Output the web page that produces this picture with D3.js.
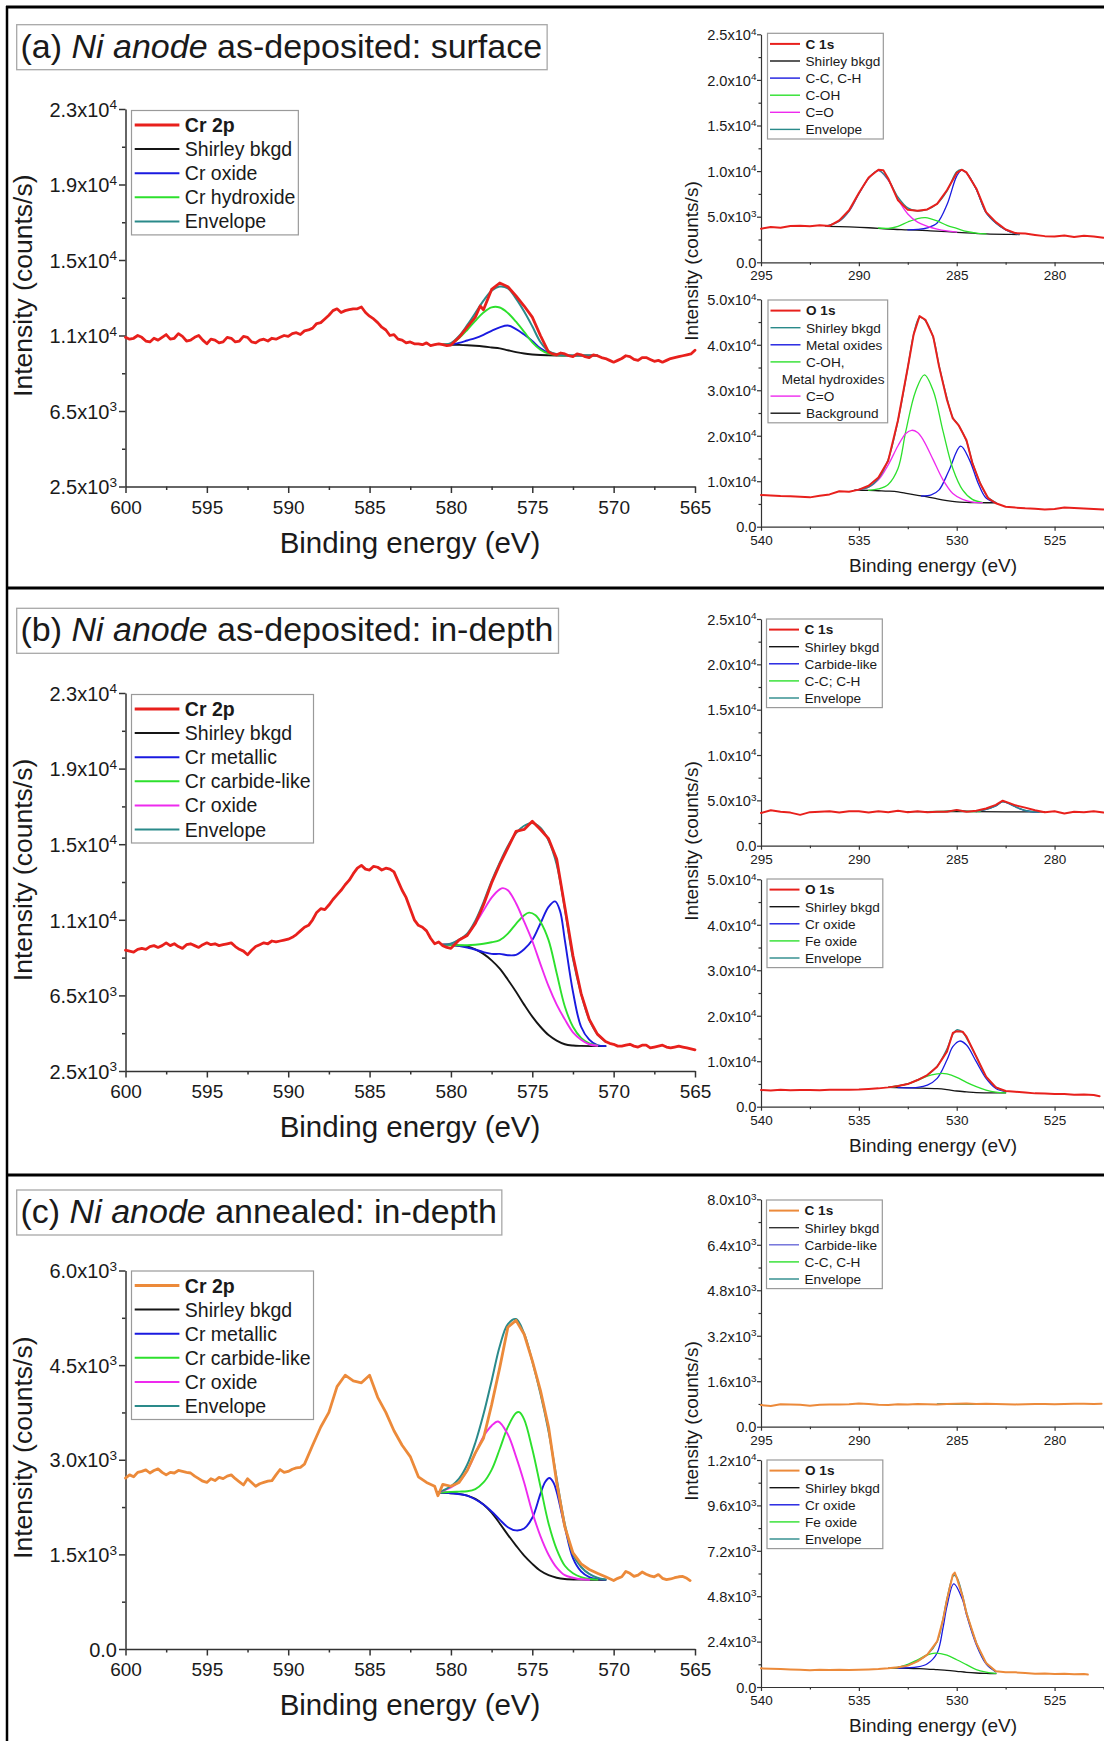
<!DOCTYPE html>
<html>
<head>
<meta charset="utf-8">
<script src="https://cdn.jsdelivr.net/npm/d3@7"></script>
<style>
  body { margin: 0; background: #fff; }
  text { font-family: "Liberation Sans", Arial, sans-serif; fill: #1a1a1a; }
</style>
</head>
<body>
<script>
// ---------- colours ----------
const RED = "#e8201c", ORANGE = "#ec8a3a", BLUE = "#1a1ae0", GREEN = "#2de02d",
      MAG = "#ee2aee", TEAL = "#2a8a8a", BLK = "#151515";

// ---------- ticks ----------
const mainXTicks = [600, 595, 590, 585, 580, 575, 570, 565];
const mainXMinor = [597.5, 592.5, 587.5, 582.5, 577.5, 572.5, 567.5];
const crYTicks = [2500, 6600, 10700, 14800, 18900, 23000];
const crYMinor = [4550, 8650, 12750, 16850, 20950];
const crYLabels = [["2.5", 3], ["6.5", 3], ["1.1", 4], ["1.5", 4], ["1.9", 4], ["2.3", 4]];
const cCrYTicks = [0, 1500, 3000, 4500, 6000];
const cCrYMinor = [750, 2250, 3750, 5250];
const cCrYLabels = [["0.0"], ["1.5", 3], ["3.0", 3], ["4.5", 3], ["6.0", 3]];

const c1sXTicks = [295, 290, 285, 280];
const c1sXMinor = [292.5, 287.5, 282.5, 277.5];
const o1sXTicks = [540, 535, 530, 525];
const o1sXMinor = [537.5, 532.5, 527.5, 522.5];
const c1sYTicks = [0, 5000, 10000, 15000, 20000, 25000];
const c1sYMinor = [2500, 7500, 12500, 17500, 22500];
const c1sYLabels = [["0.0"], ["5.0", 3], ["1.0", 4], ["1.5", 4], ["2.0", 4], ["2.5", 4]];
const o1sYTicks = [0, 10000, 20000, 30000, 40000, 50000];
const o1sYMinor = [5000, 15000, 25000, 35000, 45000];
const o1sYLabels = [["0.0"], ["1.0", 4], ["2.0", 4], ["3.0", 4], ["4.0", 4], ["5.0", 4]];
const cC1sYTicks = [0, 1600, 3200, 4800, 6400, 8000];
const cC1sYMinor = [800, 2400, 4000, 5600, 7200];
const cC1sYLabels = [["0.0"], ["1.6", 3], ["3.2", 3], ["4.8", 3], ["6.4", 3], ["8.0", 3]];
const cO1sYTicks = [0, 2400, 4800, 7200, 9600, 12000];
const cO1sYMinor = [1200, 3600, 6000, 8400, 10800];
const cO1sYLabels = [["0.0"], ["2.4", 3], ["4.8", 3], ["7.2", 3], ["9.6", 3], ["1.2", 4]];

// ---------- (a) Cr 2p ----------
const aCr = [[600,10600],[599.75,10500],[599.5,10550],[599.25,10700],[599,10600],[598.75,10400],[598.5,10350],[598.25,10550],[598,10450],[597.75,10600],[597.5,10750],[597.25,10500],[597,10550],[596.75,10800],[596.5,10650],[596.25,10400],[596,10450],[595.75,10600],[595.5,10700],[595.25,10450],[595,10250],[594.75,10500],[594.5,10450],[594.25,10300],[594,10350],[593.75,10600],[593.5,10550],[593.25,10350],[593,10400],[592.75,10650],[592.5,10600],[592.25,10350],[592,10300],[591.75,10450],[591.5,10500],[591.25,10400],[591,10550],[590.75,10500],[590.5,10600],[590.25,10700],[590,10650],[589.75,10800],[589.5,10850],[589.25,10750],[589,10950],[588.75,11000],[588.5,11100],[588.25,11350],[588,11400],[587.75,11600],[587.5,11800],[587.25,12050],[587,12150],[586.75,11950],[586.5,12050],[586.25,12100],[586,12150],[585.75,12150],[585.5,12250],[585.25,11950],[585,11750],[584.75,11600],[584.5,11400],[584.25,11150],[584,11000],[583.75,10700],[583.5,10750],[583.25,10500],[583,10450],[582.75,10300],[582.5,10350],[582.25,10250],[582,10250],[581.75,10200],[581.5,10300],[581.25,10150],[581,10200],[580.75,10250],[580.5,10200],[580.25,10150],[580,10180],[579.5,10600],[579,11150],[578.5,11700],[578.2,12300],[578,12100],[577.5,13200],[577,13550],[576.5,13350],[576,12850],[575.5,12300],[575,11700],[574.5,10700],[574,9800],[573.75,9700],[573.5,9650],[573.25,9750],[573,9700],[572.75,9600],[572.5,9550],[572.25,9700],[572,9650],[571.75,9550],[571.5,9500],[571.25,9650],[571,9600],[570.75,9500],[570.5,9450],[570.25,9350],[570,9250],[569.75,9350],[569.5,9450],[569.25,9600],[569,9550],[568.75,9400],[568.5,9350],[568.25,9500],[568,9500],[567.75,9400],[567.5,9300],[567.25,9350],[567,9250],[566.75,9350],[566.5,9450],[566.25,9500],[566,9550],[565.75,9600],[565.5,9650],[565.25,9700],[565,9900]];
const aCrBkg = [[580.5,10200],[580,10200],[579.5,10190],[579,10170],[578.5,10140],[578,10100],[577.5,10050],[577,10000],[576.5,9900],[576,9800],[575.5,9720],[575,9670],[574.5,9640],[574,9625],[573.5,9615],[573,9610],[572,9610],[571,9610]];
const aCrOx = [[580.5,10200],[580,10220],[579.5,10300],[579,10430],[578.5,10560],[578,10740],[577.5,10950],[577,11140],[576.5,11240],[576,11050],[575.5,10750],[575,10400],[574.5,10000],[574,9760],[573.5,9660],[573,9620]];
const aCrHyd = [[580.5,10200],[580,10260],[579.5,10560],[579,11000],[578.5,11500],[578,11950],[577.5,12230],[577,12220],[576.5,11920],[576,11450],[575.5,10900],[575,10330],[574.5,9930],[574,9720],[573.5,9640],[573,9615]];
const aCrEnv = [[580.5,10200],[580,10280],[579.5,10670],[579,11260],[578.5,11920],[578,12590],[577.5,13130],[577,13360],[576.5,13260],[576,12700],[575.5,12000],[575,11200],[574.5,10350],[574,9850],[573.5,9685],[573,9625],[572,9610],[571,9610]];

// ---------- (a) C 1s ----------
const aC = [[295,3690],[294.5,3870],[294,3780],[293.5,3980],[293,4020],[292.5,3950],[292,4060],[291.5,3990],[291,4600],[290.5,5700],[290,7600],[289.5,9300],[289,10150],[288.75,10100],[288.5,9200],[288,6800],[287.5,5750],[287,5650],[286.5,5800],[286,6400],[285.5,7900],[285,9800],[284.75,10150],[284.5,9850],[284,8100],[283.5,5500],[283,4400],[282.5,3600],[282,3200],[281.5,3150],[281,3000],[280.5,2870],[280,2830],[279.5,2950],[279,2780],[278.5,2900],[278,2830],[277.5,2700]];
const aCBkg = [[291.7,3950],[290.5,3880],[289.5,3790],[288.5,3650],[287.5,3560],[286.5,3470],[285.5,3360],[284.5,3220],[283.5,3110],[282.5,3060],[281.8,3050]];
const aCcc = [[287.5,3560],[287,3600],[286.5,3780],[286,4300],[285.5,6300],[285,9450],[284.75,10100],[284.5,9800],[284,8000],[283.5,5450],[283,4300],[282.5,3550],[282,3150],[281.8,3070]];
const aCoh = [[289,3760],[288.5,3720],[288,3950],[287.5,4420],[287,4800],[286.6,4900],[286,4540],[285.5,4050],[285,3720],[284.5,3380],[284,3200],[283.5,3120]];
const aCco = [[291.7,3950],[291,4500],[290.5,5600],[290,7500],[289.5,9200],[289,10050],[288.5,9000],[288,6900],[287.5,5300],[287,4400],[286.5,3950],[286,3650],[285.5,3450],[285,3320]];
const aCEnv = [[291.7,3950],[291,4520],[290.5,5620],[290,7520],[289.5,9220],[289,10080],[288.5,9050],[288,7150],[287.5,5970],[287,5620],[286.5,5800],[286,6420],[285.5,7800],[285,9920],[284.75,10150],[284.5,9820],[284,8020],[283.5,5470],[283,4320],[282.5,3570],[282,3160],[281.8,3070]];

// ---------- (a) O 1s ----------
const aO = [[540,6960],[539.5,6850],[539,6740],[538.5,6700],[538,6600],[537.5,6450],[537,6800],[536.5,7100],[536,7800],[535.5,7700],[535,8150],[534.5,9000],[534,10800],[533.5,14500],[533,23400],[532.5,35000],[532.2,42300],[531.9,46300],[531.6,45500],[531.2,41800],[530.9,35200],[530.5,27900],[530.2,23800],[529.9,22300],[529.5,19000],[529.2,14000],[528.8,9500],[528.4,6300],[528,5150],[527.5,4400],[527,4200],[526.5,4050],[526,3950],[525.5,3800],[525,3900],[524.5,4200],[524,4100],[523.5,4000],[523,3900],[522.5,3800]];
const aOBkg = [[535.2,8050],[534.5,7980],[534,7900],[533.5,7820],[533,7650],[532.5,7250],[532,6900],[531.5,6580],[531,6100],[530.5,5720],[530,5450],[529.5,5350],[529,5290],[528.5,5270],[528,5260]];
const aOmox = [[531.8,6750],[531.3,7000],[530.9,8100],[530.4,12300],[529.8,17700],[529.35,14700],[528.9,9500],[528.5,6300],[528,5300]];
const aOoh = [[534.5,8000],[534,8300],[533.5,9300],[533,12800],[532.6,21000],[532.1,29800],[531.65,33400],[531.2,29900],[530.7,21000],[530.2,12800],[529.7,8100],[529.2,6000],[528.7,5350]];
const aOco = [[535.2,8050],[534.5,8700],[534,10300],[533.5,13600],[533,17800],[532.6,20500],[532.3,21200],[532,20700],[531.7,19000],[531.2,14700],[530.7,10300],[530.2,7300],[529.7,6000],[529.2,5400],[528.7,5270]];
const aOEnv = [[535.2,8050],[534.5,8700],[534,10600],[533.5,14800],[533,23400],[532.5,35000],[532.2,42300],[531.9,46000],[531.6,45300],[531.2,41600],[530.9,35400],[530.5,28300],[530.2,24000],[529.9,22300],[529.5,18800],[529.2,14200],[528.8,9600],[528.4,6400],[528,5300]];

// ---------- (b) Cr 2p ----------
const bCr = [[600,9050],[599.75,9000],[599.5,8950],[599.25,9100],[599,9150],[598.75,9100],[598.5,9250],[598.25,9300],[598,9200],[597.75,9300],[597.5,9450],[597.25,9300],[597,9400],[596.75,9250],[596.5,9150],[596.25,9350],[596,9400],[595.75,9300],[595.5,9200],[595.25,9350],[595,9450],[594.75,9350],[594.5,9400],[594.25,9300],[594,9350],[593.75,9400],[593.5,9450],[593.25,9250],[593,9100],[592.75,9000],[592.5,8800],[592.25,9050],[592,9250],[591.75,9350],[591.5,9450],[591.25,9400],[591,9550],[590.75,9500],[590.5,9550],[590.25,9600],[590,9650],[589.75,9750],[589.5,9900],[589.25,10100],[589,10300],[588.75,10400],[588.5,10700],[588.25,11100],[588,11300],[587.75,11250],[587.5,11500],[587.25,11800],[587,12050],[586.75,12300],[586.5,12600],[586.25,12850],[586,13200],[585.75,13500],[585.5,13650],[585.25,13450],[585,13400],[584.75,13600],[584.5,13550],[584.25,13400],[584,13500],[583.75,13450],[583.5,13300],[583.25,12800],[583,12300],[582.75,11900],[582.5,11300],[582.25,10700],[582,10400],[581.75,10300],[581.5,10100],[581.25,9700],[581,9400],[580.75,9500],[580.5,9300],[580.25,9200],[580,9150],[579.5,9600],[579,9850],[578.5,10500],[578,11500],[577.5,12700],[577,13700],[576.5,14600],[576,15500],[575.5,15600],[575,16050],[574.5,15600],[574,15100],[573.5,14000],[573,11400],[572.5,8750],[572,6700],[571.5,5300],[571,4500],[570.5,4100],[570.25,4000],[570,3950],[569.75,3850],[569.5,3850],[569.25,3900],[569,3950],[568.75,3850],[568.5,3800],[568.25,3900],[568,3900],[567.75,3750],[567.5,3800],[567.25,3850],[567,3900],[566.75,3800],[566.5,3750],[566.25,3800],[566,3850],[565.75,3800],[565.5,3750],[565.25,3700],[565,3650]];
const bCrBkg = [[580.5,9350],[580,9330],[579.5,9300],[579,9250],[578.5,9100],[578,8850],[577.5,8500],[577,8050],[576.5,7450],[576,6800],[575.5,6100],[575,5450],[574.5,4900],[574,4450],[573.5,4150],[573,3950],[572.5,3880],[572,3860],[571,3850],[570.5,3850]];
const bCrMet = [[580.5,9350],[580,9330],[579,9200],[578,8950],[577.5,8850],[577,8850],[576.5,8780],[576,8800],[575.5,9100],[575,9600],[574.5,10500],[574,11400],[573.6,11700],[573.3,11200],[573,9600],[572.5,6800],[572,4900],[571.5,4200],[571,3900],[570.5,3850]];
const bCrCarb = [[580.5,9350],[579.5,9320],[579,9320],[578.5,9350],[578,9400],[577.5,9480],[577,9600],[576.5,9950],[576,10480],[575.5,10950],[575.2,11090],[574.8,10950],[574.5,10600],[574,9600],[573.5,7800],[573,6000],[572.5,4900],[572,4300],[571.5,4000],[571,3880]];
const bCrOx = [[580.5,9350],[580,9400],[579.5,9600],[579,9900],[578.5,10500],[578,11200],[577.5,11900],[577,12350],[576.8,12420],[576.5,12300],[576,11600],[575.5,10600],[575,9550],[574.5,8300],[574,7100],[573.5,6100],[573,5300],[572.5,4600],[572,4200],[571.5,3950],[571,3870]];
const bCrEnv = [[580.5,9350],[580,9400],[579.5,9620],[579,9950],[578.5,10650],[578,11650],[577.5,12800],[577,13800],[576.5,14700],[576,15400],[575.5,15800],[575,15950],[574.5,15700],[574,15000],[573.5,13700],[573,11300],[572.5,8600],[572,6700],[571.5,5300],[571,4500],[570.5,4100]];

// ---------- (b) C 1s ----------
const bC = [[295,3600],[294.5,3900],[294,3750],[293.5,3650],[293,3400],[292.5,3700],[292,3750],[291.5,3800],[291,3650],[290.5,3800],[290,3800],[289.5,3650],[289,3800],[288.5,3700],[288,3850],[287.5,3700],[287,3800],[286.5,3700],[286,3750],[285.5,3750],[285,3950],[284.5,3750],[284,3850],[283.5,4100],[283,4500],[282.65,4960],[282.3,4700],[282,4450],[281.5,4200],[281,3900],[280.5,3700],[280,3800],[279.5,3550],[279,3750],[278.5,3700],[278,3800],[277.5,3650]];
const bCBkg = [[287.5,3750],[285,3750],[282.5,3740],[280.5,3720]];
const bCcarb = [[284,3750],[283.5,4000],[283,4400],[282.65,4850],[282.2,4500],[281.8,4100],[281.3,3800],[280.8,3720]];
const bCcc = [[286.5,3750],[285.5,3800],[285,3900],[284.5,3800],[283.8,3750]];
const bCEnv = [[286.5,3750],[285.5,3800],[285,3900],[284.5,3800],[284,3800],[283.5,4000],[283,4400],[282.65,4850],[282.2,4500],[281.8,4100],[281.3,3800],[280.8,3720]];

// ---------- (b) O 1s ----------
const bO = [[540,3670],[539.5,3550],[539,3700],[538.5,3600],[538,3650],[537.5,3650],[537,3600],[536.5,3700],[536,3700],[535.5,3750],[535,3800],[534.5,3900],[534,4030],[533.5,4250],[533,4550],[532.5,4980],[532,5860],[531.5,6960],[531,8800],[530.5,12100],[530.2,16200],[530,16600],[529.7,16500],[529.5,15400],[529,11000],[528.5,6600],[528,4250],[527.5,3450],[527,3300],[526.5,3100],[526,2930],[525.5,2900],[525,2780],[524.5,2800],[524,2650],[523.5,2700],[523,2550],[522.7,2300]];
const bOBkg = [[533.5,4250],[533,4180],[532,4100],[531,3960],[530.5,3750],[530,3450],[529.5,3250],[529,3080],[528,3050],[527.5,3050]];
const bOcr = [[533,4180],[532,4250],[531.5,4750],[531,6230],[530.5,10260],[530.2,13200],[529.85,14440],[529.5,13560],[529,9900],[528.5,6230],[528,4000],[527.5,3300]];
const bOfe = [[533.5,4250],[533,4550],[532.5,5000],[532,5800],[531.5,6700],[531,7200],[530.75,7330],[530.5,7200],[530,6450],[529.5,5350],[529,4400],[528.5,3650],[528,3200],[527.5,3050]];
const bOEnv = [[533.5,4250],[533,4560],[532.5,5050],[532,5900],[531.5,6950],[531,8900],[530.5,12700],[530.2,15900],[530,16900],[529.7,16400],[529.5,15100],[529,11000],[528.5,6600],[528,4300],[527.5,3350]];

// ---------- (c) Cr 2p ----------
const cCr = [[600,2710],[599.75,2760],[599.5,2730],[599.25,2800],[599,2815],[598.75,2840],[598.5,2790],[598.25,2830],[598,2856],[597.75,2800],[597.5,2760],[597.25,2800],[597,2790],[596.75,2830],[596.5,2815],[596.25,2800],[596,2790],[595.75,2740],[595.5,2700],[595.25,2660],[595,2640],[594.75,2700],[594.5,2670],[594.25,2720],[594,2700],[593.75,2740],[593.5,2760],[593.25,2700],[593,2650],[592.75,2600],[592.5,2700],[592.25,2640],[592,2580],[591.75,2620],[591.5,2640],[591.25,2660],[591,2670],[590.75,2760],[590.5,2845],[590.25,2800],[590,2815],[589.75,2850],[589.5,2870],[589.25,2880],[589,2930],[588.5,3230],[588,3520],[587.5,3750],[587,4160],[586.5,4340],[586,4250],[585.5,4220],[585,4340],[584.5,3990],[584,3750],[583.5,3460],[583,3230],[582.5,3050],[582,2730],[581.5,2640],[581,2580],[580.8,2430],[580.5,2610],[580,2580],[579.5,2640],[579,2830],[578.5,3110],[578,3340],[577.5,3870],[577,4460],[576.5,5100],[576,5210],[575.5,4990],[575,4570],[574.5,4100],[574,3520],[573.5,2640],[573,1935],[572.5,1525],[572,1350],[571.5,1260],[571,1200],[570.5,1145],[570,1085],[569.75,1120],[569.5,1145],[569.25,1230],[569,1200],[568.75,1150],[568.5,1170],[568.25,1220],[568,1185],[567.75,1160],[567.5,1145],[567.25,1180],[567,1120],[566.75,1100],[566.5,1110],[566.25,1130],[566,1145],[565.75,1150],[565.5,1120],[565.3,1085]];
const cCrBkg = [[580.8,2480],[580,2470],[579.5,2460],[579,2430],[578.5,2380],[578,2290],[577.5,2160],[577,1990],[576.5,1810],[576,1640],[575.5,1480],[575,1350],[574.5,1240],[574,1170],[573.5,1130],[573,1110],[572,1100],[571,1097],[570.5,1095]];
const cCrMet = [[580.8,2480],[580,2470],[579,2430],[578,2290],[577.5,2180],[577,2050],[576.5,1930],[576,1880],[575.5,1910],[575,2080],[574.5,2460],[574.2,2650],[573.95,2710],[573.7,2640],[573.5,2490],[573,1935],[572.5,1440],[572,1230],[571.5,1140],[571,1110],[570.5,1100]];
const cCrCarb = [[580.8,2480],[580,2490],[579.5,2495],[579,2500],[578.5,2534],[578,2640],[577.5,2840],[577,3170],[576.5,3520],[576,3740],[575.8,3754],[575.5,3640],[575,3170],[574.5,2580],[574,1990],[573.5,1580],[573,1320],[572.5,1200],[572,1140],[571.5,1110],[571,1100]];
const cCrOx = [[580.8,2480],[580,2560],[579.5,2650],[579,2830],[578.5,3100],[578,3370],[577.5,3540],[577.1,3607],[576.5,3400],[576,3050],[575.5,2640],[575,2170],[574.5,1790],[574,1495],[573.5,1290],[573,1170],[572.5,1130],[572,1105],[571.5,1098]];
const cCrEnv = [[580.8,2480],[580,2580],[579.5,2700],[579,2920],[578.5,3270],[578,3720],[577.5,4250],[577,4800],[576.5,5150],[576,5230],[575.5,5000],[575,4560],[574.5,4050],[574,3450],[573.5,2700],[573,1980],[572.5,1500],[572,1300],[571.5,1190],[571,1130],[570.5,1100]];

// ---------- (c) C 1s ----------
const cC = [[295,760],[294.5,730],[294,790],[293.5,780],[293,770],[292.5,740],[292,775],[291.5,785],[291,780],[290.5,790],[290,820],[289.5,800],[289,770],[288.5,760],[288,790],[287.5,785],[287,800],[286.5,790],[286,780],[285.5,800],[285,805],[284.5,815],[284,800],[283.5,810],[283,800],[282.5,790],[282,785],[281.5,790],[281,800],[280.5,795],[280,790],[279.5,800],[279,810],[278.5,805],[278,795],[277.6,810]];
const cCBkg = [[286,785],[284.5,790],[283,790]];
const cCcarb = [[286,788],[285,795],[284,798],[283,792]];
const cCcc = [[286,786],[285,792],[284,795],[283,791]];
const cCEnv = [[286,790],[285,800],[284,805],[283,795]];

// ---------- (c) O 1s ----------
const cO = [[540,985],[539.5,970],[539,950],[538.5,930],[538,915],[537.5,880],[537,915],[536.5,905],[536,915],[535.5,905],[535,915],[534.5,930],[534,950],[533.5,985],[533,1040],[532.5,1130],[532,1355],[531.5,1710],[531,2410],[530.7,3550],[530.5,4610],[530.2,5930],[530.1,6050],[530,5780],[529.7,4790],[529.5,3900],[529,2320],[528.5,1270],[528,830],[527.5,775],[527,775],[526.5,740],[526,705],[525.5,720],[525,690],[524.5,700],[524,670],[523.5,690],[523.3,660]];
const cOBkg = [[533.5,985],[533,1000],[532,970],[531.5,950],[531,915],[530.5,880],[530,830],[529.5,775],[529,740],[528.5,720],[528,705]];
const cOcr = [[533,1000],[532,1060],[531.5,1230],[531,1800],[530.7,3130],[530.5,4260],[530.15,5456],[529.7,4610],[529.5,3820],[529,2240],[528.5,1220],[528,800]];
const cOfe = [[533.5,985],[533,1040],[532.5,1200],[532,1440],[531.5,1700],[531.1,1795],[530.5,1680],[530,1440],[529.5,1180],[529,920],[528.5,790],[528,720]];
const cOEnv = [[533.5,985],[533,1040],[532.5,1150],[532,1380],[531.5,1720],[531,2400],[530.7,3600],[530.5,4640],[530.15,5900],[530,5800],[529.7,4830],[529.5,3950],[529,2350],[528.5,1280],[528,830]];

// ---------- page ----------
const W = 1104, H = 1741;
const svg = d3.select("body").append("svg").attr("width", W).attr("height", H);
svg.append("rect").attr("width", W).attr("height", H).attr("fill", "#fff");

// panel frame
const frame = svg.append("g").attr("stroke", "#000");
frame.append("line").attr("x1", 6).attr("x2", W).attr("y1", 7).attr("y2", 7).attr("stroke-width", 3);
frame.append("line").attr("x1", 7).attr("x2", 7).attr("y1", 6).attr("y2", H).attr("stroke-width", 2.5);
[588, 1175].forEach(yy => frame.append("line").attr("x1", 6).attr("x2", W).attr("y1", yy).attr("y2", yy).attr("stroke-width", 3));

const mainStyle = { tick: 19, yTick: 20, sup: 0.68, major: 6.5, minor: 3.5, xPad: 7.5, yGap: 2, axisW: 1.5, axisColor: "#333" };
const sideStyle = { tick: 13.5, yTick: 14.6, sup: 0.68, major: 4, minor: 2.5, xPad: 4.6, yGap: 0.5, axisW: 1.2, axisColor: "#333" };

function drawChart(c) {
  const s = c.style;
  const x = d3.scaleLinear().domain(c.xDomain).range([c.left, c.right]);
  const y = d3.scaleLinear().domain(c.yDomain).range([c.bottom, c.top]);
  const g = svg.append("g");

  // minor ticks
  g.append("g").attr("transform", `translate(0,${c.bottom})`)
    .call(d3.axisBottom(x).tickValues(c.xMinor).tickSize(s.minor).tickFormat(""))
    .call(a => a.select(".domain").remove());
  g.append("g").attr("transform", `translate(${c.left},0)`)
    .call(d3.axisLeft(y).tickValues(c.yMinor).tickSize(s.minor).tickFormat(""))
    .call(a => a.select(".domain").remove());

  // x axis
  const xa = g.append("g").attr("transform", `translate(0,${c.bottom})`)
    .call(d3.axisBottom(x).tickValues(c.xTicks).tickSize(s.major).tickSizeOuter(0)
      .tickPadding(s.xPad).tickFormat(d => d));
  xa.selectAll("text").style("font-size", s.tick + "px");

  // y axis with superscript labels
  const ya = g.append("g").attr("transform", `translate(${c.left},0)`)
    .call(d3.axisLeft(y).tickValues(c.yTicks).tickSize(s.major).tickSizeOuter(0).tickFormat(""));
  ya.selectAll(".tick").each(function (d, i) {
    const lab = c.yLabels[i];
    const t = d3.select(this).select("text")
      .attr("x", -(s.major + s.yGap)).attr("dy", "0.36em")
      .attr("text-anchor", "end").style("font-size", s.yTick + "px");
    t.text(null);
    if (lab.length === 1) { t.text(lab[0]); return; }
    t.append("tspan").text(lab[0] + "x10");
    t.append("tspan").attr("dy", "-0.55em").style("font-size", (s.yTick * s.sup) + "px").text(lab[1]);
  });

  g.selectAll(".domain, .tick line").attr("stroke", s.axisColor).attr("stroke-width", s.axisW);

  // curves
  c.series.forEach(sr => {
    const line = d3.line().x(d => x(d[0])).y(d => y(d[1]))
      .curve(sr.smooth ? d3.curveCatmullRom.alpha(0.5) : d3.curveLinear);
    g.append("path").datum(sr.data).attr("d", line)
      .attr("fill", "none").attr("stroke", sr.color).attr("stroke-width", sr.w)
      .attr("stroke-linejoin", "round").attr("stroke-linecap", "round");
  });
  return g;
}

const mainLeg = { font: 19.5, row: 24.1, first: 14.5, l0: 3.2, l1: 47.9, tx: 53.3, pad: 3, lw: [3, 2] };
const sideLeg = { font: 13.6, row: 17.1, first: 10.6, l0: 2.5, l1: 32.5, tx: 38, pad: 3, lw: [2, 1.4] };

function drawLegend(x0, y0, L, entries) {
  const g = svg.append("g");
  const box = g.append("rect").attr("fill", "#fff").attr("stroke", "#9a9a9a").attr("stroke-width", 1.2);
  let maxR = 0;
  entries.forEach((e, i) => {
    const cy = y0 + L.first + i * L.row;
    if (e.color) {
      g.append("line").attr("x1", x0 + L.l0).attr("x2", x0 + L.l1).attr("y1", cy).attr("y2", cy)
        .attr("stroke", e.color).attr("stroke-width", i === 0 ? L.lw[0] : L.lw[1]);
    }
    const t = g.append("text").attr("x", x0 + (e.tx !== undefined ? e.tx : L.tx)).attr("y", cy)
      .attr("dy", "0.36em").style("font-size", L.font + "px")
      .style("font-weight", i === 0 ? "bold" : null).text(e.label);
    const bb = t.node().getBBox();
    maxR = Math.max(maxR, bb.x + bb.width);
  });
  const h = 2 * L.first + (entries.length - 1) * L.row - 1;
  box.attr("x", x0).attr("y", y0).attr("width", maxR - x0 + L.pad).attr("height", h);
}

function drawTitle(y0, tag, rest) {
  const g = svg.append("g");
  const box = g.append("rect").attr("fill", "#fff").attr("stroke", "#a8a8a8").attr("stroke-width", 1.3);
  const t = g.append("text").attr("x", 20.5).attr("y", y0 + 33).style("font-size", "34px");
  t.append("tspan").text(tag + " ");
  t.append("tspan").style("font-style", "italic").text("Ni anode");
  t.append("tspan").text(" " + rest);
  const bb = t.node().getBBox();
  box.attr("x", 16.7).attr("y", y0).attr("width", bb.x + bb.width - 16.7 + 5).attr("height", 45);
}

function axisTitles(mainTop, mainBottom, sideYc, sideBottom) {
  svg.append("text").attr("x", 410).attr("y", mainBottom + 66).attr("text-anchor", "middle")
    .style("font-size", "29.5px").text("Binding energy (eV)");
  const ymc = (mainTop + mainBottom) / 2 - 12;
  svg.append("text").attr("transform", `translate(32,${ymc}) rotate(-90)`).attr("text-anchor", "middle")
    .style("font-size", "26.5px").text("Intensity (counts/s)");
  svg.append("text").attr("transform", `translate(698,${sideYc}) rotate(-90)`).attr("text-anchor", "middle")
    .style("font-size", "19px").text("Intensity (counts/s)");
  svg.append("text").attr("x", 933).attr("y", sideBottom + 45).attr("text-anchor", "middle")
    .style("font-size", "19px").text("Binding energy (eV)");
}

const MX = [125.5, 695], SX = [761, 1103.5];
const c1sDom = [295, 277.5], o1sDom = [540, 522.5];

function sideSeries(spec, col, parts, env) {
  const out = parts.map(p => ({ data: p[0], color: p[1], w: 1.3, smooth: true }));
  out.push({ data: env, color: TEAL, w: 1.4, smooth: true });
  out.push({ data: spec, color: col, w: 2 });
  return out;
}
function mainSeries(spec, col, parts, env) {
  const out = parts.map(p => ({ data: p[0], color: p[1], w: 1.9, smooth: true }));
  out.push({ data: env, color: TEAL, w: 2, smooth: true });
  out.push({ data: spec, color: col, w: 2.8 });
  return out;
}

// ================= (a) =================
drawTitle(24.7, "(a)", "as-deposited: surface");
drawChart({ style: mainStyle, left: MX[0], right: MX[1], top: 109, bottom: 486.5,
  xDomain: [600, 565], yDomain: [2500, 23000], xTicks: mainXTicks, xMinor: mainXMinor,
  yTicks: crYTicks, yMinor: crYMinor, yLabels: crYLabels,
  series: mainSeries(aCr, RED, [[aCrBkg, BLK], [aCrOx, BLUE], [aCrHyd, GREEN]], aCrEnv) });
drawLegend(131.5, 110.5, mainLeg, [
  { label: "Cr 2p", color: RED }, { label: "Shirley bkgd", color: BLK }, { label: "Cr oxide", color: BLUE },
  { label: "Cr hydroxide", color: GREEN }, { label: "Envelope", color: TEAL }]);

drawChart({ style: sideStyle, left: SX[0], right: SX[1], top: 34.3, bottom: 262.3,
  xDomain: c1sDom, yDomain: [0, 25000], xTicks: c1sXTicks, xMinor: c1sXMinor,
  yTicks: c1sYTicks, yMinor: c1sYMinor, yLabels: c1sYLabels,
  series: sideSeries(aC, RED, [[aCBkg, BLK], [aCcc, BLUE], [aCoh, GREEN], [aCco, MAG]], aCEnv) });
drawLegend(767.5, 33.3, sideLeg, [
  { label: "C 1s", color: RED }, { label: "Shirley bkgd", color: BLK }, { label: "C-C, C-H", color: BLUE },
  { label: "C-OH", color: GREEN }, { label: "C=O", color: MAG }, { label: "Envelope", color: TEAL }]);

drawChart({ style: sideStyle, left: SX[0], right: SX[1], top: 299.3, bottom: 526.7,
  xDomain: o1sDom, yDomain: [0, 50000], xTicks: o1sXTicks, xMinor: o1sXMinor,
  yTicks: o1sYTicks, yMinor: o1sYMinor, yLabels: o1sYLabels,
  series: sideSeries(aO, RED, [[aOBkg, BLK], [aOmox, BLUE], [aOoh, GREEN], [aOco, MAG]], aOEnv) });
drawLegend(768, 300, sideLeg, [
  { label: "O 1s", color: RED }, { label: "Shirley bkgd", color: TEAL }, { label: "Metal oxides", color: BLUE },
  { label: "C-OH,", color: GREEN }, { label: "Metal hydroxides", tx: 13.7 }, { label: "C=O", color: MAG },
  { label: "Background", color: BLK }]);
axisTitles(109, 486.5, 261, 526.7);

// ================= (b) =================
drawTitle(608.3, "(b)", "as-deposited: in-depth");
drawChart({ style: mainStyle, left: MX[0], right: MX[1], top: 693, bottom: 1071,
  xDomain: [600, 565], yDomain: [2500, 23000], xTicks: mainXTicks, xMinor: mainXMinor,
  yTicks: crYTicks, yMinor: crYMinor, yLabels: crYLabels,
  series: mainSeries(bCr, RED, [[bCrBkg, BLK], [bCrMet, BLUE], [bCrCarb, GREEN], [bCrOx, MAG]], bCrEnv) });
drawLegend(131.5, 694.5, mainLeg, [
  { label: "Cr 2p", color: RED }, { label: "Shirley bkgd", color: BLK }, { label: "Cr metallic", color: BLUE },
  { label: "Cr carbide-like", color: GREEN }, { label: "Cr oxide", color: MAG }, { label: "Envelope", color: TEAL }]);

drawChart({ style: sideStyle, left: SX[0], right: SX[1], top: 619, bottom: 845.7,
  xDomain: c1sDom, yDomain: [0, 25000], xTicks: c1sXTicks, xMinor: c1sXMinor,
  yTicks: c1sYTicks, yMinor: c1sYMinor, yLabels: c1sYLabels,
  series: sideSeries(bC, RED, [[bCBkg, BLK], [bCcarb, BLUE], [bCcc, GREEN]], bCEnv) });
drawLegend(766.5, 619, sideLeg, [
  { label: "C 1s", color: RED }, { label: "Shirley bkgd", color: BLK }, { label: "Carbide-like", color: BLUE },
  { label: "C-C; C-H", color: GREEN }, { label: "Envelope", color: TEAL }]);

drawChart({ style: sideStyle, left: SX[0], right: SX[1], top: 879.3, bottom: 1106.7,
  xDomain: o1sDom, yDomain: [0, 50000], xTicks: o1sXTicks, xMinor: o1sXMinor,
  yTicks: o1sYTicks, yMinor: o1sYMinor, yLabels: o1sYLabels,
  series: sideSeries(bO, RED, [[bOBkg, BLK], [bOcr, BLUE], [bOfe, GREEN]], bOEnv) });
drawLegend(767, 879, sideLeg, [
  { label: "O 1s", color: RED }, { label: "Shirley bkgd", color: BLK }, { label: "Cr oxide", color: BLUE },
  { label: "Fe oxide", color: GREEN }, { label: "Envelope", color: TEAL }]);
axisTitles(693, 1071, 841, 1106.7);

// ================= (c) =================
drawTitle(1190, "(c)", "annealed: in-depth");
drawChart({ style: mainStyle, left: MX[0], right: MX[1], top: 1270.5, bottom: 1649,
  xDomain: [600, 565], yDomain: [0, 6000], xTicks: mainXTicks, xMinor: mainXMinor,
  yTicks: cCrYTicks, yMinor: cCrYMinor, yLabels: cCrYLabels,
  series: mainSeries(cCr, ORANGE, [[cCrBkg, BLK], [cCrMet, BLUE], [cCrCarb, GREEN], [cCrOx, MAG]], cCrEnv) });
drawLegend(131.5, 1271, mainLeg, [
  { label: "Cr 2p", color: ORANGE }, { label: "Shirley bkgd", color: BLK }, { label: "Cr metallic", color: BLUE },
  { label: "Cr carbide-like", color: GREEN }, { label: "Cr oxide", color: MAG }, { label: "Envelope", color: TEAL }]);

drawChart({ style: sideStyle, left: SX[0], right: SX[1], top: 1199.3, bottom: 1426.7,
  xDomain: c1sDom, yDomain: [0, 8000], xTicks: c1sXTicks, xMinor: c1sXMinor,
  yTicks: cC1sYTicks, yMinor: cC1sYMinor, yLabels: cC1sYLabels,
  series: sideSeries(cC, ORANGE, [[cCBkg, "#555"], [cCcarb, "#6a6ad8"], [cCcc, GREEN]], cCEnv) });
drawLegend(766.5, 1200, sideLeg, [
  { label: "C 1s", color: ORANGE }, { label: "Shirley bkgd", color: "#333" }, { label: "Carbide-like", color: "#6a6ad8" },
  { label: "C-C, C-H", color: GREEN }, { label: "Envelope", color: TEAL }]);

drawChart({ style: sideStyle, left: SX[0], right: SX[1], top: 1460, bottom: 1687,
  xDomain: o1sDom, yDomain: [0, 12000], xTicks: o1sXTicks, xMinor: o1sXMinor,
  yTicks: cO1sYTicks, yMinor: cO1sYMinor, yLabels: cO1sYLabels,
  series: sideSeries(cO, ORANGE, [[cOBkg, BLK], [cOcr, BLUE], [cOfe, GREEN]], cOEnv) });
drawLegend(767, 1460, sideLeg, [
  { label: "O 1s", color: ORANGE }, { label: "Shirley bkgd", color: BLK }, { label: "Cr oxide", color: BLUE },
  { label: "Fe oxide", color: GREEN }, { label: "Envelope", color: TEAL }]);
axisTitles(1270.5, 1649, 1421, 1687);
</script>
</body>
</html>
